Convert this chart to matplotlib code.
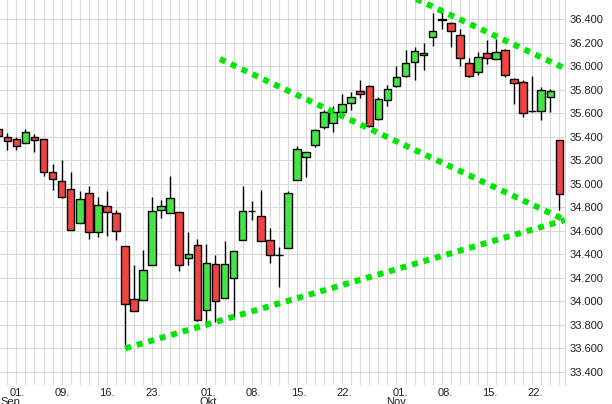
import numpy as np
import matplotlib
matplotlib.use("Agg")
import matplotlib.pyplot as plt
import matplotlib.transforms as mtransforms

plt.rcParams['font.family'] = ['Liberation Sans', 'DejaVu Sans']

# ---- data (trading-day index = position) ----
opens  = [35.47, 35.40, 35.38, 35.35, 35.40, 35.38, 35.10, 35.02, 34.96, 34.67,
          34.92, 34.59, 34.81, 34.75, 34.47, 34.02, 34.01, 34.31, 34.78, 34.75,
          34.76, 34.37, 34.48, 33.93, 34.32, 34.03, 34.20, 34.52, 34.77, 34.73,
          34.52, 34.39, 34.45, 35.03, 35.23, 35.33, 35.48, 35.52, 35.61, 35.69,
          35.79, 35.83, 35.55, 35.71, 35.83, 35.92, 36.04, 36.10, 36.25, 36.39,
          36.37, 36.27, 36.03, 35.95, 36.11, 36.06, 36.14, 35.89, 35.87, 35.62,
          35.62, 35.74, 35.37]
highs  = [35.49, 35.43, 35.40, 35.47, 35.42, 35.38, 35.17, 35.20, 35.10, 34.94,
          34.98, 34.89, 34.94, 34.78, 34.47, 34.31, 34.44, 34.89, 34.86, 35.07,
          34.76, 34.59, 34.53, 34.49, 34.39, 34.51, 34.43, 34.98, 34.85, 34.95,
          34.62, 34.46, 34.94, 35.32, 35.27, 35.47, 35.63, 35.66, 35.76, 35.78,
          35.88, 35.84, 35.74, 35.84, 36.00, 36.14, 36.16, 36.20, 36.45, 36.49,
          36.38, 36.32, 36.07, 36.12, 36.22, 36.23, 36.15, 35.90, 35.88, 35.92,
          35.82, 35.81, 35.37]
lows   = [35.39, 35.29, 35.29, 35.35, 35.27, 35.07, 34.95, 34.88, 34.61, 34.67,
          34.53, 34.55, 34.56, 34.52, 33.60, 33.92, 34.01, 34.31, 34.71, 34.75,
          34.26, 34.31, 33.83, 33.78, 33.82, 34.03, 33.87, 34.52, 34.69, 34.51,
          34.33, 34.12, 34.45, 35.03, 35.06, 35.31, 35.47, 35.44, 35.60, 35.63,
          35.73, 35.48, 35.54, 35.66, 35.82, 35.91, 35.88, 35.97, 36.17, 36.32,
          36.16, 36.00, 35.91, 35.93, 36.02, 36.06, 35.91, 35.68, 35.57, 35.61,
          35.54, 35.61, 34.78]
closes = [35.41, 35.36, 35.32, 35.44, 35.37, 35.10, 35.04, 34.89, 34.61, 34.87,
          34.59, 34.82, 34.76, 34.60, 33.98, 33.92, 34.27, 34.77, 34.81, 34.88,
          34.31, 34.40, 33.84, 34.33, 34.00, 34.32, 34.43, 34.77, 34.77, 34.51,
          34.39, 34.39, 34.92, 35.30, 35.27, 35.46, 35.61, 35.61, 35.68, 35.74,
          35.76, 35.49, 35.72, 35.81, 35.91, 36.03, 36.13, 36.11, 36.30, 36.40,
          36.30, 36.07, 35.92, 36.08, 36.07, 36.12, 35.93, 35.86, 35.60, 35.62,
          35.80, 35.79, 34.91]

day_tick_pos = [2.06, 7.04, 12.02, 17.1, 23.18, 28.15, 33.23, 38.2, 44.39, 49.36, 54.34, 59.31]
day_tick_labels = ["01.", "09.", "16.", "23.", "01.", "08.", "15.", "22.", "01.", "08.", "15.", "22."]
month_pos = [0.3, 23.15, 44.0]
month_labels = ["Sep", "Okt", "Nov"]

y_ticks = [33.4, 33.6, 33.8, 34.0, 34.2, 34.4, 34.6, 34.8, 35.0, 35.2,
           35.4, 35.6, 35.8, 36.0, 36.2, 36.4]

# trend lines: (x0, y0, x1, y1) in data units
trend_lines = [
    (14.04, 33.600, 62.62, 34.692),
    (24.50, 36.062, 62.62, 34.692),
    (45.94, 36.581, 62.62, 35.982),
]

# ---- figure ----
W, H = 612, 404
fig = plt.figure(figsize=(W / 100, H / 100), dpi=100)
ax = fig.add_axes([0, 19 / H, 565 / W, 385 / H])
ax.set_xlim(0.193, 62.62)
ax.set_ylim(33.288, 36.564)

grid_c = '#d9d9d9'
n = len(opens)
for j in range(n):
    ax.axvline(j, color=grid_c, lw=0.8, zorder=0)
for v in y_ticks:
    ax.axhline(v, color=grid_c, lw=0.8, zorder=0)

x = np.arange(n)
o = np.array(opens); c = np.array(closes)
hi = np.array(highs); lo = np.array(lows)
up = c >= o
ax.vlines(x, lo, hi, color='black', lw=1.0, zorder=2)
colors = np.where(up, '#44e444', '#ee4444')
ax.bar(x, np.abs(c - o), bottom=np.minimum(o, c), width=0.84,
       color=colors, edgecolor='black', linewidth=1.0, zorder=3)

for (x0, y0, x1, y1) in trend_lines:
    ax.plot([x0, x1], [y0, y1], color='#00e600', lw=4.3,
            linestyle=(0, (1, 1)), dash_capstyle='butt', zorder=5)

for s in ax.spines.values():
    s.set_visible(False)
ax.spines['right'].set_visible(True)
ax.spines['right'].set_color(grid_c)
ax.spines['right'].set_linewidth(0.8)

ax.yaxis.tick_right()
ax.set_yticks(y_ticks)
ax.set_yticklabels([f"{v:.3f}" for v in y_ticks])
ax.tick_params(axis='y', length=0, pad=3, labelsize=8, labelcolor='#222222')
ax.set_xticks(day_tick_pos)
ax.set_xticklabels(day_tick_labels)
ax.tick_params(axis='x', length=0, pad=2, labelsize=8, labelcolor='#222222')

trans = mtransforms.blended_transform_factory(ax.transData, ax.transAxes)
for mp, ml in zip(month_pos, month_labels):
    ax.text(mp, -0.032, ml, transform=trans, ha='left' if mp < 1 else 'center',
            va='top', fontsize=8, color='#222222', clip_on=False)

fig.savefig('out.png', dpi=100)
